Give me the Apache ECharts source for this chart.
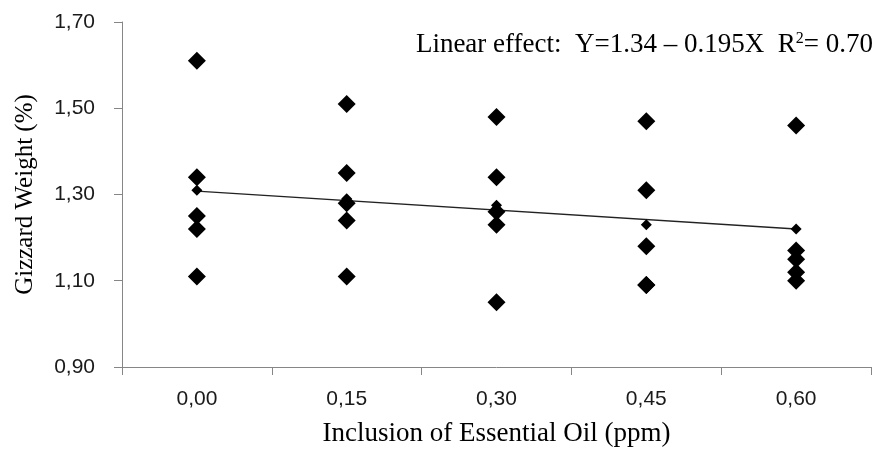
<!DOCTYPE html>
<html>
<head>
<meta charset="utf-8">
<script src="https://cdn.jsdelivr.net/npm/echarts@6/dist/echarts.min.js"></script>
<style>
    html, body { margin: 0; padding: 0; background: #fff; }
    #chart { width: 877px; height: 452px; }
</style>
</head>
<body>
<div id="chart"></div>
<script>
// doses on the x axis
const doses = ['0,00', '0,15', '0,30', '0,45', '0,60'];

// individual gizzard weights (%) per dose
const weights000 = [1.61, 1.34, 1.25, 1.22, 1.11];
const weights015 = [1.51, 1.35, 1.28, 1.24, 1.11];
const weights030 = [1.48, 1.34, 1.26, 1.23, 1.05];
const weights045 = [1.47, 1.31, 1.18, 1.09, 1.09];
const weights060 = [1.46, 1.17, 1.15, 1.12, 1.10];

// small markers (group means)
const meanWeights = [1.31, 1.29, 1.275, 1.23, 1.22];

// fitted line, read at both ends
const trendLine = [1.308, null, null, null, 1.22];

const yTicks = { min: 0.9, max: 1.7, interval: 0.2 };

const groups = [weights000, weights015, weights030, weights045, weights060];
const points = [];
groups.forEach((g, i) => {
    g.forEach(v => points.push([i, v]));
});

const chartInstance = echarts.init(document.getElementById('chart'));

const option = {
    animation: false,
    grid: {
        left: 122,
        right: 6,
        top: 22,
        bottom: 82
    },
    xAxis: {
        type: 'category',
        data: doses,
        boundaryGap: true,
        name: 'Inclusion of Essential Oil (ppm)',
        nameLocation: 'middle',
        nameGap: 53,
        nameTextStyle: {
            fontFamily: 'Liberation Serif',
            fontSize: 27,
            color: '#000'
        },
        axisLine: { lineStyle: { color: '#868686', width: 1 } },
        axisTick: { show: true, length: 8, inside: false, lineStyle: { color: '#868686' } },
        axisLabel: {
            margin: 22,
            fontFamily: 'Liberation Sans',
            fontSize: 21,
            color: '#1a1a1a'
        },
        splitLine: { show: false }
    },
    yAxis: {
        type: 'value',
        min: yTicks.min,
        max: yTicks.max,
        interval: yTicks.interval,
        name: 'Gizzard Weight (%)',
        nameLocation: 'middle',
        nameGap: 84,
        nameRotate: 90,
        nameTextStyle: {
            fontFamily: 'Liberation Serif',
            fontSize: 25,
            color: '#000'
        },
        axisLine: { show: true, lineStyle: { color: '#868686', width: 1 } },
        axisTick: { show: true, length: 8, inside: false, lineStyle: { color: '#868686' } },
        axisLabel: {
            margin: 27,
            fontFamily: 'Liberation Sans',
            fontSize: 21,
            color: '#1a1a1a',
            formatter: v => v.toFixed(2).replace('.', ',')
        },
        splitLine: { show: false }
    },
    graphic: [
        {
            type: 'text',
            right: 4,
            top: 31,
            style: {
                text: 'Linear effect:  Y=1.34 – 0.195X  R{sup|2}= 0.70',
                fontFamily: 'Liberation Serif',
                fontSize: 27,
                fill: '#000',
                rich: {
                    sup: {
                        fontFamily: 'Liberation Serif',
                        fontSize: 16,
                        fill: '#000',
                        padding: [0, 0, 11, 0]
                    }
                }
            }
        }
    ],
    series: [
        {
            type: 'line',
            data: trendLine,
            connectNulls: true,
            symbol: 'none',
            lineStyle: { color: '#222', width: 1.3 },
            z: 2
        },
        {
            type: 'scatter',
            data: points,
            symbol: 'diamond',
            symbolSize: 18,
            itemStyle: { color: '#000', opacity: 1 },
            z: 3
        },
        {
            type: 'scatter',
            data: meanWeights,
            symbol: 'diamond',
            symbolSize: 11,
            itemStyle: { color: '#000', opacity: 1 },
            z: 4
        }
    ]
};

chartInstance.setOption(option);

window.addEventListener('resize', () => {
    chartInstance.resize();
});
</script>
</body>
</html>
